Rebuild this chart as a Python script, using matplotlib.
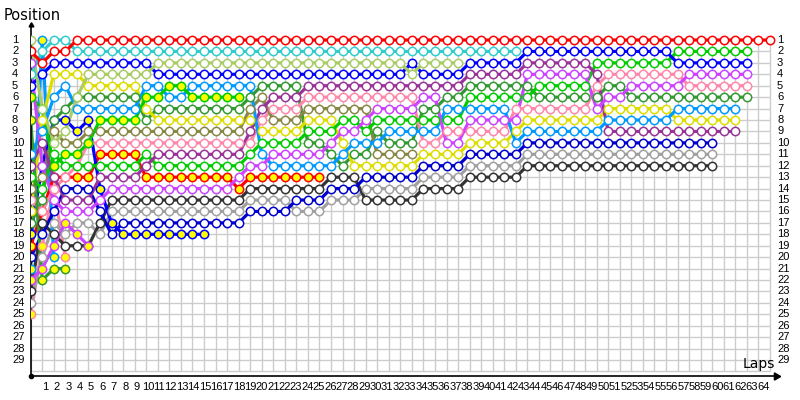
import matplotlib
matplotlib.use("Agg")
import matplotlib.pyplot as plt
from matplotlib.transforms import blended_transform_factory

# ---------------- data: (first_lap, last_lap, position) segments ----------------
red_w = [(0,0,2),(1,1,3),(2,3,2),(4,64,1)]
cyan_w = [(0,0,4),(1,1,2),(2,3,1),(4,42,2)]
lolive_w = [(0,0,1),(1,1,7),(2,2,10),(3,3,9),(4,4,6),(5,10,4),(11,32,3),(33,33,4),(34,37,3)]
blue_w = [(0,0,5),(1,1,4),(2,10,3),(11,32,4),(33,33,3),(34,37,4),(38,42,3),(43,55,2),(56,62,3)]
violet_w = [(0,0,3),(1,1,12),(2,2,15),(3,5,16),(6,6,15),(7,17,14),(18,18,13),(19,20,12),(21,25,11),
            (26,26,10),(27,28,9),(29,29,8),(30,33,7),(34,35,6),(36,37,10),(38,42,8),(43,48,4),(49,49,7),
            (50,51,6),(52,56,5),(57,62,4)]
green_y = [(0,0,6),(1,1,7),(2,2,12),(3,4,11),(5,5,10),(6,9,8),(10,11,6),(12,13,5),(14,18,6)]
dgreen_y = [(0,0,8),(1,1,22),(2,3,21)]
sky_w = [(0,0,11),(1,1,9),(2,2,6),(3,3,5),(4,9,7),(10,11,5),(12,13,6),(14,19,5),(20,20,11),
         (21,26,12),(27,27,11),(28,30,10),(31,35,9),(36,41,7),(42,42,10),(43,49,9),(50,55,8),(56,61,7)]
purple_w = [(0,0,12),(1,1,10),(2,2,13),(3,5,15),(6,9,13),(10,10,12),(11,18,11),(19,19,9),(20,20,7),
            (21,23,6),(24,37,5),(38,42,4),(43,48,3),(49,49,4),(50,61,9)]
green_w = [(0,0,13),(1,1,14),(2,2,11),(3,9,12),(10,10,11),(11,18,12),(19,19,11),(20,23,10),(24,26,9),
           (27,28,8),(29,29,9),(30,37,8),(38,43,6),(44,48,5),(49,55,3),(56,62,2)]
olive_w = [(0,0,14),(1,1,13),(2,2,9),(3,4,10),(5,18,9),(19,19,7),(20,20,6),(21,23,8),(24,29,7),(30,33,11)]
pink_w = [(0,0,15),(1,1,16),(2,2,14),(3,3,13),(4,4,12),(5,19,10),(20,20,8),(21,23,7),(24,33,6),
          (34,35,10),(36,41,9),(42,48,7),(49,49,5),(50,56,4),(57,62,5)]
yellow_w = [(0,0,16),(1,1,8),(2,4,4),(5,9,5),(10,10,7),(11,19,8),(20,23,9),(24,26,8),(27,27,10),
            (28,33,12),(34,37,11),(38,41,10),(42,42,9),(43,49,8),(50,55,7),(56,61,8)]
dgreen_w = [(0,0,17),(1,1,15),(2,2,8),(3,3,7),(4,9,6),(10,10,8),(11,18,7),(19,19,6),(20,23,5),
            (24,25,10),(26,26,11),(27,27,12),(28,29,11),(30,30,9),(31,33,10),(34,35,7),(36,37,6),
            (38,43,5),(44,49,6),(50,51,5),(52,62,6)]
blue_y = [(0,0,18),(1,1,12),(2,3,8),(4,4,9),(5,5,8),(6,6,14),(7,7,17),(8,15,18)]
red_y = [(0,0,19),(1,1,16),(2,5,13),(6,9,11),(10,17,13),(18,18,14),(19,25,13)]
dblue_w = [(0,0,20),(1,1,18),(2,2,16),(3,5,14),(6,6,16),(7,7,18),(8,18,17),(19,22,16),(23,25,15),
           (26,28,14),(29,33,13),(34,37,12),(38,42,11),(43,59,10)]
sky_y = [(0,0,21),(1,1,1),(2,2,20)]
violet_y = [(0,0,22),(1,1,21),(2,2,19),(3,3,17),(4,4,18),(5,5,19)]
black_w = [(0,0,23),(1,1,17),(2,2,18),(3,5,19),(6,6,17),(7,18,15),(19,25,14),(26,28,13),(29,33,15),
           (34,37,14),(38,42,13),(43,59,12)]
gray_w = [(0,0,24),(1,1,20),(2,2,17),(3,3,18),(4,5,17),(6,6,18),(7,18,16),(19,22,15),(23,25,16),
          (26,28,15),(29,33,14),(34,37,13),(38,42,12),(43,59,11)]
pink_y = [(0,0,25),(1,1,19),(2,2,14),(3,3,20)]

laps_total = 64
positions_total = 29
lap_labels = [str(k) for k in range(1, laps_total + 1)]
pos_labels = [str(k) for k in range(1, positions_total + 1)]

YEL = "#FFFF00"
WHT = "#FFFFFF"
drivers = [
    (pink_y, "#FF88AA", YEL), (gray_w, "#A0A0A0", WHT), (black_w, "#333333", WHT),
    (violet_y, "#CC44FF", YEL), (sky_y, "#0099FF", YEL), (dblue_w, "#0000CC", WHT),
    (red_y, "#FF0000", YEL), (blue_y, "#0000FF", YEL), (dgreen_w, "#339933", WHT),
    (yellow_w, "#DDDD00", WHT), (pink_w, "#FF88AA", WHT), (olive_w, "#888844", WHT),
    (green_w, "#00CC00", WHT), (purple_w, "#993399", WHT), (sky_w, "#0099FF", WHT),
    (dgreen_y, "#339933", YEL), (green_y, "#00CC00", YEL), (violet_w, "#CC44FF", WHT),
    (blue_w, "#0000FF", WHT), (lolive_w, "#AACC66", WHT), (cyan_w, "#33CCCC", WHT),
    (red_w, "#FF0000", WHT),
]


def expand(segs):
    xs, ys = [], []
    for a, b, p in segs:
        for lap in range(a, b + 1):
            xs.append(lap)
            ys.append(p)
    return xs, ys


fig = plt.figure(figsize=(8, 4), dpi=100)
W, H = 800.0, 400.0
x0_px, x1_px = 30.7, 776.3
top_px, bot_px = 25.0, 375.7
ax = fig.add_axes([x0_px / W, 1 - bot_px / H, (x1_px - x0_px) / W, (bot_px - top_px) / H])
lap_px = 11.55
pos_px = 11.43
ax.set_xlim(0, (x1_px - x0_px) / lap_px)
ax.set_ylim(1 + (bot_px - 40.0) / pos_px, 1 - (40.0 - top_px) / pos_px)

# grid
grid_c = "#CCCCCC"
ax.vlines(range(0, laps_total + 1), 1, positions_total + 1, colors=grid_c, lw=1.0, zorder=0)
ax.hlines(range(1, positions_total + 2), 0, laps_total, colors=grid_c, lw=1.0, zorder=0)

for segs, col, face in drivers:
    xs, ys = expand(segs)
    ax.plot(xs, ys, "-", color=col, lw=2.3, solid_capstyle="round", zorder=2)
    ax.plot(xs, ys, "o", ms=6.0, mfc=face, mec=col, mew=1.1, zorder=3)

for s in ["top", "right"]:
    ax.spines[s].set_visible(False)
ax.spines["left"].set_linewidth(1.2)
ax.spines["bottom"].set_linewidth(1.2)
ax.set_xticks([])
ax.set_yticks([])
ax.plot(0, 1, marker=(3, 0, 0), ms=4, color="black", transform=ax.transAxes, clip_on=False)
ax.plot(0, 0, "o", ms=3, color="black", transform=ax.transAxes, clip_on=False)
ax.plot(1, 0, marker=(3, 0, -90), ms=6, color="black", transform=ax.transAxes, clip_on=False)

fnt = "Liberation Sans"
for i, lab in enumerate(pos_labels):
    p = i + 1
    ax.text((12 - x0_px) / lap_px, p, lab, ha="left", va="center", fontsize=8, family=fnt, clip_on=False)
    ax.text((777 - x0_px) / lap_px, p, lab, ha="left", va="center", fontsize=8, family=fnt, clip_on=False)

trans = blended_transform_factory(ax.transData, fig.transFigure)
for i, lab in enumerate(lap_labels):
    cx = (45.5 + i * 11.39 - x0_px) / lap_px
    ax.text(cx, 1 - 387.5 / H, lab, ha="center", va="center", fontsize=8, family=fnt,
            transform=trans, clip_on=False)

fig.text(4 / W, 1 - 15 / H, "Position", ha="left", va="center", fontsize=10.5)
fig.text(759 / W, 1 - 364 / H, "Laps", ha="center", va="center", fontsize=10)

fig.savefig("out.png", dpi=100)
